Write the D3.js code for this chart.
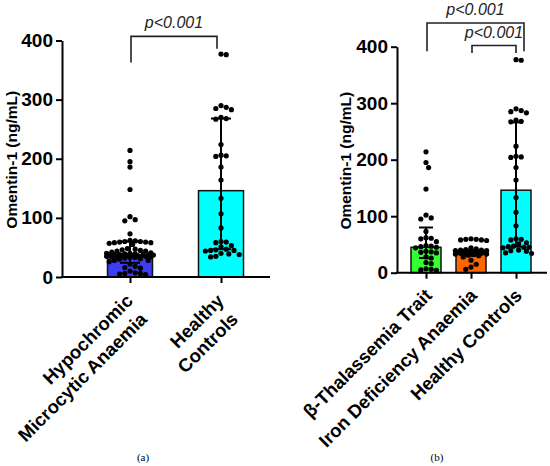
<!DOCTYPE html>
<html><head><meta charset="utf-8">
<script src="https://cdn.jsdelivr.net/npm/d3@7/dist/d3.min.js"></script>
<style>body{margin:0;background:#fff}svg{display:block}</style>
</head><body>
<svg id="c" width="550" height="466"></svg>
<script>
// ---------- DATA ----------
const yTicks = [0, 100, 200, 300, 400];
const catsA = [["Hypochromic", "Microcytic Anaemia"], ["Healthy", "Controls"]];
const catsB = ["β-Thalassemia Trait", "Iron Deficiency Anaemia", "Healthy Controls"];

const btt = [214, 195, 186, 148, 102, 97, 95, 73, 62, 61, 60, 55, 48, 47, 46, 45, 44, 38, 37, 36, 35, 28, 26, 18, 16, 7, 6, 5, 4];
const ida = [60, 59, 59, 58, 58, 57, 44, 42, 41, 40, 40, 39, 39, 38, 38, 37, 37, 36, 36, 36, 35, 35, 34, 34, 33, 33, 32, 31, 30, 28, 22, 15, 10, 6];
const hc  = [377, 376, 290, 287, 285, 283, 270, 268, 267, 224, 206, 205, 204, 186, 164, 133, 107, 83, 60, 59, 58, 53, 51, 47, 46, 45, 45, 44, 40, 39, 38, 35, 34];
const hma = btt.concat(ida);   // hypochromic microcytic anaemia = β-TT + IDA patients

const barsA = [37, 146];
const errA  = [[24, 60], [47, 268]];
const barsB = [45, 35, 146];
const errB  = [[26, 80], [30, 38], [46, 266]];

const colorsA = ["#3d3df5", "#00ffff"];
const colorsB = ["#33ff33", "#ff6600", "#00ffff"];

const pLabel = "p<0.001";
// brackets: [from index, to index, top value, left-end value, right-end value, right x shift]
const bracketsA = [[0, 1, 407, 363, 386, -4]];
const bracketsB = [[0, 2, 442, 392, 392, 8], [1, 2, 402, 389, 389, 0]];

// ---------- DRAW ----------
const svg = d3.select("#c");
const FONT = "Arial, Helvetica, sans-serif";

function swarm(values, y, cx, maxHalf, r) {
  const placed = [];
  const step = r * 2;
  const sorted = values.slice().sort((a, b) => b - a);
  sorted.forEach(v => {
    const py = y(v);
    const cands = [0];
    for (let k = 1; k * step / 2 <= maxHalf; k++) { cands.push(k * step / 2, -k * step / 2); }
    let best = null, bestD = -1;
    for (const off of cands) {
      const px = cx + off;
      let md = Infinity;
      for (const p of placed) {
        const d = Math.hypot(p[0] - px, p[1] - py);
        if (d < md) md = d;
      }
      if (md >= step * 0.98) { best = px; bestD = md; break; }
      if (md > bestD) { bestD = md; best = px; }
    }
    placed.push([best, py]);
  });
  return placed;
}

function panel(cfg) {
  const g = svg.append("g");
  const y = d3.scaleLinear().domain([0, 400]).range([cfg.y0, cfg.y400]);
  const x = d3.scalePoint().domain(d3.range(cfg.n)).range([cfg.xFirst, cfg.xLast]);

  // bars
  g.selectAll("rect.bar").data(cfg.bars).join("rect")
    .attr("x", (d, i) => x(i) - cfg.bw / 2)
    .attr("y", d => y(d))
    .attr("width", cfg.bw)
    .attr("height", d => y(0) - y(d))
    .attr("fill", (d, i) => cfg.colors[i])
    .attr("stroke", "#111").attr("stroke-width", 1.5);

  // error bars
  cfg.err.forEach((e, i) => {
    const cx = x(i);
    g.append("line").attr("x1", cx).attr("x2", cx).attr("y1", y(e[0])).attr("y2", y(e[1]))
      .attr("stroke", "#000").attr("stroke-width", 2);
    [e[0], e[1]].forEach(v => {
      g.append("line").attr("x1", cx - cfg.cap).attr("x2", cx + cfg.cap).attr("y1", y(v)).attr("y2", y(v))
        .attr("stroke", "#000").attr("stroke-width", 2);
    });
  });

  // dots
  cfg.groups.forEach((vals, i) => {
    const pts = swarm(vals, y, x(i), cfg.bw / 2 + 1, 2.6);
    g.selectAll(null).data(pts).join("circle")
      .attr("cx", d => d[0]).attr("cy", d => d[1]).attr("r", 2.6).attr("fill", "#000");
  });

  // y axis
  const ya = g.append("g").attr("transform", `translate(${cfg.xAxis},0)`)
    .call(d3.axisLeft(y).tickValues(yTicks).tickSize(6).tickSizeOuter(0).tickPadding(3));
  ya.select(".domain").attr("stroke", "#000").attr("stroke-width", 2);
  ya.selectAll(".tick line").attr("stroke", "#000").attr("stroke-width", 2);
  ya.selectAll(".tick text").attr("font-family", FONT).attr("font-weight", "bold")
    .attr("font-size", 19).attr("fill", "#000");

  // x axis
  g.append("line").attr("x1", cfg.xAxis - 1).attr("x2", cfg.xEnd).attr("y1", y(0)).attr("y2", y(0))
    .attr("stroke", "#000").attr("stroke-width", 2);
  const xa = g.append("g").attr("transform", `translate(0,${y(0)})`)
    .call(d3.axisBottom(x).tickSize(6).tickSizeOuter(0).tickFormat(""));
  xa.select(".domain").remove();
  xa.selectAll(".tick line").attr("stroke", "#000").attr("stroke-width", 2);

  // category labels
  cfg.cats.forEach((c, i) => {
    const lines = Array.isArray(c) ? c : [c];
    const lg = g.append("g").attr("transform", `translate(${x(i) + cfg.lblDx},${y(0) + cfg.lblDy}) rotate(-45)`);
    lines.forEach((t, j) => {
      lg.append("text").attr("x", -j * 3).attr("y", j * 23).attr("text-anchor", "end")
        .attr("font-family", FONT).attr("font-weight", "bold").attr("font-size", 18.5)
        .attr("fill", "#000").text(t);
    });
  });

  // y title
  g.append("text")
    .attr("transform", `translate(${cfg.titleX},${(y(0) + y(400)) / 2 + 1}) rotate(-90)`)
    .attr("text-anchor", "middle").attr("font-family", FONT).attr("font-weight", "bold")
    .attr("font-size", 15.5).attr("fill", "#000").text("Omentin-1 (ng/mL)");

  // brackets
  cfg.brackets.forEach(b => {
    const x1 = x(b[0]) + 1, x2 = x(b[1]) + b[5];
    g.append("path")
      .attr("d", `M${x1},${y(b[3])}V${y(b[2])}H${x2}V${y(b[4])}`)
      .attr("fill", "none").attr("stroke", "#222").attr("stroke-width", 1.6);
    g.append("text").attr("x", (x1 + x2) / 2).attr("y", y(b[2]) - 8)
      .attr("text-anchor", "middle").attr("font-family", FONT).attr("font-style", "italic")
      .attr("font-size", 16).attr("fill", "#222").text(pLabel);
  });

  // panel letter
  g.append("text").attr("x", cfg.letterX).attr("y", 461).attr("text-anchor", "middle")
    .attr("font-family", "'Liberation Serif', 'Times New Roman', serif").attr("font-size", 11)
    .attr("fill", "#000").text(cfg.letter);
}

panel({
  n: 2, y0: 277, y400: 40.5, xFirst: 130, xLast: 221, xAxis: 62, xEnd: 270, bw: 45, cap: 10,
  bars: barsA, err: errA, colors: colorsA, groups: [hma, hc], cats: catsA,
  lblDx: 4, lblDy: 25, titleX: 16.5, brackets: bracketsA, letter: "(a)", letterX: 143
});
panel({
  n: 3, y0: 272.7, y400: 46.7, xFirst: 426, xLast: 516, xAxis: 397, xEnd: 547, bw: 30, cap: 7,
  bars: barsB, err: errB, colors: colorsB, groups: [btt, ida, hc], cats: catsB,
  lblDx: 7, lblDy: 24, titleX: 350.5, brackets: bracketsB, letter: "(b)", letterX: 437
});
</script>
</body></html>
